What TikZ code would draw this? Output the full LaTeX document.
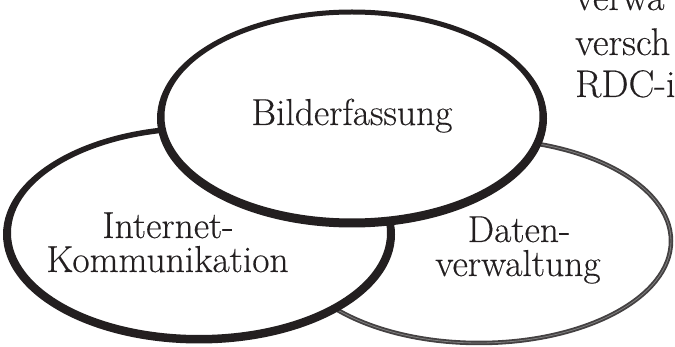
\documentclass[tikz,border=0pt]{standalone}
\usepackage{fontspec}
\newfontfamily\labelfont{Latin Modern Roman}[FakeBold=0.3]
\definecolor{ink}{HTML}{231F20}
\begin{document}
\begin{tikzpicture}[x=1pt,y=-1pt,
  lbl/.style={anchor=base,inner sep=0pt,text=ink,font=\labelfont\fontsize{37.5}{37.5}\selectfont},
  side/.style={anchor=base west,inner sep=0pt,text=ink,font=\labelfont\fontsize{38.5}{38.5}\selectfont}]
\useasboundingbox (0,0) rectangle (675,347);
% right ellipse (bottom layer)
\fill[white] (479,241) ellipse [x radius=192pt, y radius=102pt];
\draw[ink!85,line width=4.5pt] (479,241) ellipse [x radius=192pt, y radius=102pt];
\draw[black!50,line width=0.8pt] (479,241) ellipse [x radius=192pt, y radius=102pt];
% left ellipse
\fill[white] (199,234) ellipse [x radius=192pt, y radius=105pt];
\fill[ink,even odd rule] (199,234.5) ellipse [x radius=196pt, y radius=109pt]
                         (199,233) ellipse [x radius=188pt, y radius=102pt];
% top ellipse
\fill[white] (352,117.5) ellipse [x radius=191pt, y radius=105pt];
\fill[ink,even odd rule] (352,118.5) ellipse [x radius=195pt, y radius=109pt]
                         (352,116.5) ellipse [x radius=187.5pt, y radius=102pt];
% labels
\node[lbl] (bild) at (352,125) {Bilderfassung};
\node[lbl] (inet) at (168,238) {Internet-};
\node[lbl] (komm) at (167.5,272) {Kommunikation};
\node[lbl] (dat) at (519,242) {Daten-};
\node[lbl] (verw) at (518,276) {verwaltung};
% cut-off text at top right
\node[side] (t1) at (575,10) {verwa};
\node[side] (t2) at (575,55) {versch};
\node[side] (t3) at (575,97) {RDC-i};
\end{tikzpicture}
\end{document}
